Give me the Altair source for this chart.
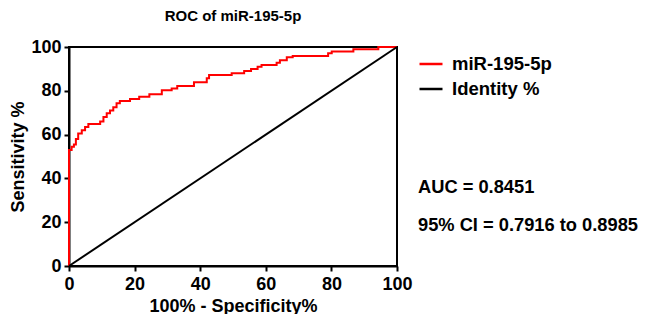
import altair as alt
import pandas as pd

# ROC curve of miR-195-5p (100% - specificity %, sensitivity %)
fpr = [0, 0, 0.8, 1.5, 2.1, 2.8, 3.9, 4.9, 5.9, 9.5, 10.5, 11.5, 12.5, 13.5, 14.5,
       15.5, 18.6, 21.4, 24.5, 28.3, 31.3, 33.0, 38.1, 42.0, 42.7, 49.6, 53.4,
       55.5, 57.5, 58.7, 63.3, 64.3, 66.4, 68.2, 79.0, 80.1, 86.7, 94.3, 100]
tpr = [0, 53, 54.5, 55.5, 58, 60.5, 62, 63.5, 64.8, 66, 68, 69.7, 71, 72.5, 74.3,
       75.3, 76.2, 77.3, 78.4, 80.2, 81.1, 82.2, 83.9, 85.7, 87.2, 88, 89,
       90, 91, 91.8, 92.8, 94, 95.3, 95.9, 97.1, 97.9, 99, 100, 100]
identity_x = [0, 100]
identity_y = [0, 100]
series_names = ["miR-195-5p", "Identity %"]
series_colors = ["#ff0000", "#000000"]
x_ticks = [0, 20, 40, 60, 80, 100]
y_ticks = [0, 20, 40, 60, 80, 100]
annotations = ["AUC = 0.8451", "95% CI = 0.7916 to 0.8985"]

FONT = "Liberation Sans"

roc = pd.DataFrame({"x": fpr, "y": tpr, "series": series_names[0], "order": range(len(fpr))})
ident = pd.DataFrame({"x": identity_x, "y": identity_y, "series": series_names[1],
                      "order": range(len(identity_x))})

color = alt.Color("series:N",
                  scale=alt.Scale(domain=series_names, range=series_colors),
                  legend=alt.Legend(title=None, orient="none", legendX=349, legendY=4,
                                    symbolType="stroke", symbolSize=529,
                                    symbolStrokeWidth=2.5, labelFont=FONT,
                                    labelFontSize=18.5, labelFontWeight="bold",
                                    labelColor="black", labelOffset=8,
                                    rowPadding=2, padding=0))

xenc = alt.X("x:Q", scale=alt.Scale(domain=[0, 100], nice=False),
             axis=alt.Axis(title="100% - Specificity%", values=x_ticks))
yenc = alt.Y("y:Q", scale=alt.Scale(domain=[0, 100], nice=False),
             axis=alt.Axis(title="Sensitivity %", values=y_ticks))

ident_line = alt.Chart(ident).mark_line(strokeWidth=2).encode(
    x=xenc, y=yenc, color=color, order="order:Q")
roc_line = alt.Chart(roc).mark_line(strokeWidth=2, interpolate="step-after").encode(
    x=xenc, y=yenc, color=color, order="order:Q")

ann = pd.DataFrame({"text": annotations, "row": [0, 1]})
ann_layers = []
for i, ypx in enumerate([141, 179]):
    ann_layers.append(
        alt.Chart(ann).transform_filter(alt.datum.row == i).mark_text(
            align="left", baseline="middle", font=FONT, fontSize=18.3, fontWeight="bold",
            color="black").encode(x=alt.value(349), y=alt.value(ypx), text="text:N"))

chart = alt.layer(roc_line, ident_line, *ann_layers).properties(
    width=328, height=219,
    autosize=alt.AutoSizeParams(type="none"),
    padding={"left": 61, "top": 39, "right": 243, "bottom": 48},
    title=alt.TitleParams("ROC of miR-195-5p", font=FONT, fontSize=15,
                          fontWeight="bold", anchor="middle", offset=14, color="black"),
).configure_view(stroke="black", strokeWidth=2).configure_axis(
    grid=False, domainColor="black", domainWidth=2, tickColor="black", tickWidth=2,
    tickSize=5, labelFont=FONT, labelFontSize=18, labelFontWeight="bold",
    labelColor="black", titleFont=FONT, titleFontSize=18, titleFontWeight="bold",
    titleColor="black", labelPadding=3, titlePadding=3, labelFlush=False
).configure_axisX(labelPadding=4, titlePadding=4)

chart.save("out.html", embed_options={"renderer": "svg", "actions": False})
